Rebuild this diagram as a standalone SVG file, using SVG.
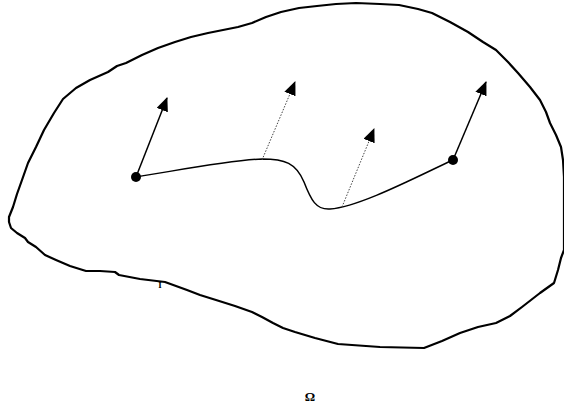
<svg xmlns="http://www.w3.org/2000/svg" width="564" height="409" viewBox="0 0 564 409">
<defs>
<style>
.outline{fill:#fff;stroke:#000;stroke-width:2.2;stroke-linejoin:round}
.curve{fill:none;stroke:#000;stroke-width:1.5}
.solid{stroke:#000;stroke-width:1.5;fill:none}
.dotted{stroke:#444;stroke-width:1;stroke-dasharray:1.5 1.5;fill:none}
.dot{fill:#000}
.lbl{font-family:"Liberation Serif",serif;fill:#000;font-weight:bold}
</style>
<marker id="ah" markerUnits="userSpaceOnUse" markerWidth="14" markerHeight="12" viewBox="0 0 14 12" refX="13" refY="6" orient="auto">
<path d="M0,0 L14,6 L0,12 Z" fill="#000"/>
</marker>
</defs>
<rect width="564" height="409" fill="#fff"/>
<g id="region">
<path class="outline" d="M356,3 L380,4 L399,5 L418,9 L432,13 L450,22 L468,32 L483,42 L496,50 L508,62 L518,73 L530,87 L540,100 L546,112 L550,123 L556,135 L561,147 L563,160 L564,177 L564,215 L564,250 L561,258 L558,270 L554,283 L547,288 L540,293 L531,300 L522,307 L510,316 L496,323 L478,327 L460,333 L442,341 L424,348 L380,347 L338,344 L315,338 L295,332 L283,328 L273,323 L262,317 L252,312 L235,306 L216,300 L200,295 L187,290 L176,286 L165,282 L140,279 L119,275 L115,272 L100,271 L86,271 L70,266 L56,260 L45,255 L36,247 L28,242 L25,238 L17,233 L11,228 L9,222 L9,217 L13,207 L17,194 L22,180 L28,163 L36,147 L44,130 L54,113 L63,99 L76,88 L90,80 L108,72 L117,66 L126,63 L142,55 L158,48 L175,42 L191,37 L208,33 L223,30 L238,27 L252,23 L266,17 L281,12 L299,8 L317,6 L336,4 Z"/>
</g>
<g id="connectors">
<path class="curve" d="M136,177 C180,170 230,160 262,159 C285,159 296,163 304,182 C311,200 316,210 330,209 C360,207 420,175 453,160"/>
<line class="solid" x1="136" y1="177" x2="167" y2="98" marker-end="url(#ah)"/>
<line class="dotted" x1="262" y1="160" x2="295" y2="82" marker-end="url(#ah)"/>
<line class="dotted" x1="342" y1="207" x2="374" y2="129" marker-end="url(#ah)"/>
<line class="solid" x1="453" y1="160" x2="486" y2="82" marker-end="url(#ah)"/>
</g>
<g id="p1"><circle class="dot" cx="136" cy="177" r="5"/></g>
<g id="p2"><circle class="dot" cx="453" cy="160" r="5"/></g>
<g id="labels">
<text class="lbl" x="160" y="288" font-size="9" text-anchor="middle">I</text>
<text class="lbl" x="310" y="401" font-size="13" text-anchor="middle">Ω</text>
</g>
</svg>
